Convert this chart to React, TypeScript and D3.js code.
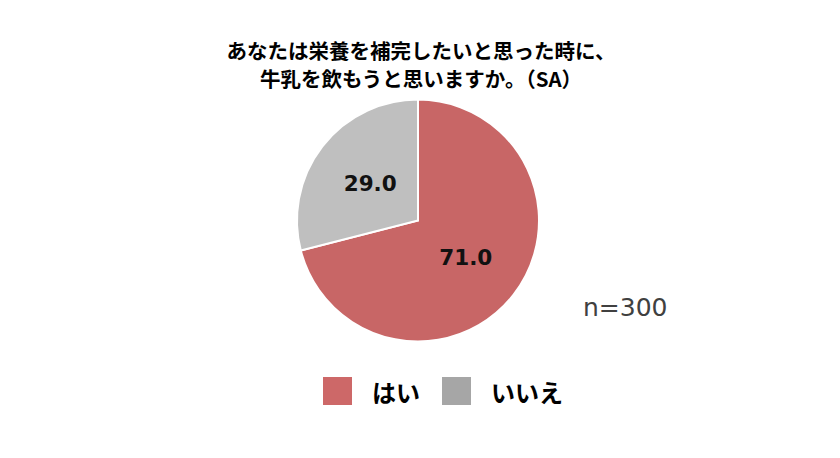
import React from 'react';
import * as d3 from 'd3';

const categories = ['はい', 'いいえ'];
const values = [71.0, 29.0];
const sliceColors = ['#c86666', '#bfbfbf'];
const legendColors = ['#cd6868', '#a6a6a6'];
const titleLines = ['あなたは栄養を補完したいと思った時に、', '牛乳を飲もうと思いますか。（SA）'];
const sampleNote = 'n=300';

const W = 840;
const H = 458;
const cx = 418;
const cy = 220.5;
const radius = 121;

export default function App() {
  const pie = d3.pie<number>().sort(null).value(d => d)(values);
  const arc = d3.arc<d3.PieArcDatum<number>>().innerRadius(0).outerRadius(radius);
  const labelArc = d3.arc<d3.PieArcDatum<number>>().innerRadius(radius * 0.5).outerRadius(radius * 0.5);

  const legendX = [323, 442];

  return (
    <svg width={W} height={H} style={{ position: 'absolute', left: 0, top: 0, background: '#fff' }}>
      <rect width={W} height={H} fill="#fff" />
      {/* title */}
      {titleLines.map((t, i) => (
        <text key={i} x={421} y={59 + i * 28} textAnchor="middle"
          fontFamily="'Noto Sans CJK JP', sans-serif" fontWeight="bold" fontSize={20.5} fill="#000">
          {t}
        </text>
      ))}
      <g transform={`translate(${cx},${cy})`}>
        {pie.map((p, i) => (
          <path key={i} d={arc(p) || ''} fill={sliceColors[i]} stroke="#fff" strokeWidth={2} />
        ))}
        {pie.map((p, i) => {
          const [lx, ly] = labelArc.centroid(p);
          return (
            <text key={'l' + i} x={lx} y={ly} textAnchor="middle" dominantBaseline="central"
              fontFamily="'DejaVu Sans', sans-serif" fontWeight="bold" fontSize={21.5} fill="#111">
              {values[i].toFixed(1)}
            </text>
          );
        })}
      </g>
      <text x={583} y={316} fontFamily="'DejaVu Sans', sans-serif" fontSize={25} fill="#404040">
        {sampleNote}
      </text>
      {categories.map((c, i) => (
        <g key={c}>
          <rect x={legendX[i]} y={377} width={29} height={28} fill={legendColors[i]} />
          <text x={legendX[i] + 49} y={391} dominantBaseline="central"
            fontFamily="'Noto Sans CJK JP', sans-serif" fontWeight="bold" fontSize={24} fill="#000">
            {c}
          </text>
        </g>
      ))}
    </svg>
  );
}
